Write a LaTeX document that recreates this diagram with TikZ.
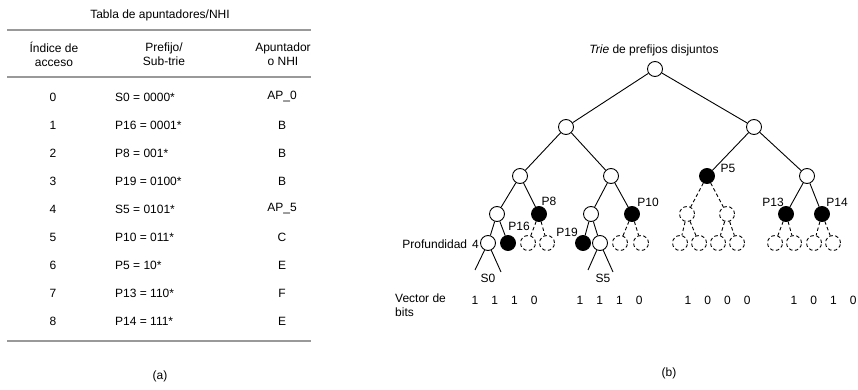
\documentclass[tikz,border=0pt]{standalone}
\usepackage{fontspec}
\setmainfont{Liberation Sans}
\usetikzlibrary{positioning}
\tikzstyle{etq}=[inner sep=1pt,font=\fontsize{12}{14}\selectfont]
\tikzstyle{vacio}=[circle,draw,fill=white,line width=0.9pt,minimum size=15pt,inner sep=0pt]
\tikzstyle{prefijo}=[vacio,fill=black]
\tikzstyle{virtual}=[vacio,dash pattern=on 3.5pt off 2.5pt]
\tikzstyle{rama}=[draw,line width=0.9pt]
\tikzstyle{ramavirtual}=[rama,dash pattern=on 3.5pt off 2.5pt]
\tikzstyle{regla}=[line width=2.6pt,draw=black!40]

\begin{document}
\begin{tikzpicture}[x=1pt,y=-1pt]
    \useasboundingbox (0,0) rectangle (858,390);

    % (a) tabla
    \node[etq] (titulo) at (160,15) {Tabla de apuntadores/NHI};
    \draw[regla] (7,30) -- (311,30);
    \node[etq,align=center] (hidx) at (54,54) {Índice de\\acceso};
    \node[etq,align=center] (hpfx) at (164,54) {Prefijo/\\Sub-trie};
    \node[etq,align=center] (hap)  at (283,54) {Apuntador\\o NHI};
    \draw[regla] (7,77) -- (311,77);
    \foreach \i/\p/\a in {0/S0 = 0000*/AP\_0, 1/P16 = 0001*/B, 2/P8 = 001*/B,
        3/P19 = 0100*/B, 4/S5 = 0101*/AP\_5, 5/P10 = 011*/C, 6/P5 = 10*/E,
        7/P13 = 110*/F, 8/P14 = 111*/E} {
        \node[etq] (idx\i) at (53,97+28*\i) {\i};
        \node[etq,anchor=west] (pfx\i) at (114,97+28*\i) {\p};
        \node[etq] (ap\i) at (282,97+28*\i) {\a};
    }
    \draw[regla] (7,341) -- (311,341);
    \node[etq] (capa) at (160,376) {(a)};

    % (b) trie
    \node[etq] (titulob) at (654,50) {\textit{Trie} de prefijos disjuntos};
    \node[vacio] (n) at (655,69) {};
    \node[vacio] (n0) at (566,127) {};
    \node[vacio] (n1) at (754,127) {};
    \node[vacio] (n00) at (520,176) {};
    \node[vacio] (n01) at (611,176) {};
    \node[prefijo] (n10) at (707,176) {};
    \node[vacio] (n11) at (807,176) {};
    \node[vacio] (n000) at (497,214) {};
    \node[prefijo] (n001) at (539,214) {};
    \node[vacio] (n010) at (591,214) {};
    \node[prefijo] (n011) at (632,214) {};
    \node[virtual] (n100) at (687,214) {};
    \node[virtual] (n101) at (727,214) {};
    \node[prefijo] (n110) at (786,214) {};
    \node[prefijo] (n111) at (822,214) {};
    \node[vacio] (n0000) at (488,243) {};
    \node[prefijo] (n0001) at (508,243) {};
    \node[virtual] (n0010) at (528,243) {};
    \node[virtual] (n0011) at (547,243) {};
    \node[prefijo] (n0100) at (583,243) {};
    \node[vacio] (n0101) at (600,243) {};
    \node[virtual] (n0110) at (620,243) {};
    \node[virtual] (n0111) at (641,243) {};
    \node[virtual] (n1000) at (680,243) {};
    \node[virtual] (n1001) at (699,243) {};
    \node[virtual] (n1010) at (718,243) {};
    \node[virtual] (n1011) at (737,243) {};
    \node[virtual] (n1100) at (775,243) {};
    \node[virtual] (n1101) at (794,243) {};
    \node[virtual] (n1110) at (814,243) {};
    \node[virtual] (n1111) at (833,243) {};

    \path[rama] (n) edge (n0) edge (n1)
        (n0) edge (n00) edge (n01)
        (n1) edge (n10) edge (n11)
        (n00) edge (n000) edge (n001)
        (n01) edge (n010) edge (n011)
        (n11) edge (n110) edge (n111)
        (n000) edge (n0000) edge (n0001)
        (n010) edge (n0100) edge (n0101);
    \path[ramavirtual] (n001) edge (n0010) edge (n0011)
        (n011) edge (n0110) edge (n0111)
        (n10) edge (n100) edge (n101)
        (n100) edge (n1000) edge (n1001)
        (n101) edge (n1010) edge (n1011)
        (n110) edge (n1100) edge (n1101)
        (n111) edge (n1110) edge (n1111);

    % sub-tries S0 y S5
    \coordinate (s0a) at (475,270);
    \coordinate (s0b) at (501,272);
    \coordinate (s5a) at (588,270);
    \coordinate (s5b) at (613,272);
    \path[rama] (n0000) edge (s0a) edge (s0b)
        (n0101) edge (s5a) edge (s5b);
    \node[etq] (eS0) at (488,278) {S0};
    \node[etq] (eS5) at (603,278) {S5};

    \node[etq] (eP5) at (728,168) {P5};
    \node[etq] (eP8) at (549,201) {P8};
    \node[etq] (eP10) at (648,202) {P10};
    \node[etq] (eP13) at (773,202) {P13};
    \node[etq] (eP14) at (837,202) {P14};
    \node[etq] (eP16) at (519,226) {P16};
    \node[etq] (eP19) at (567,232) {P19};
    \node[etq,anchor=east] (prof) at (480,244) {Profundidad\hspace{5pt}4};

    \node[etq,anchor=north west,align=left] (vec) at (394,293) {Vector de\\bits};
    \foreach \g/\x/\bits in {1/475/{1,1,1,0},2/580/{1,1,1,0},3/688/{1,0,0,0},4/794/{1,0,1,0}} {
        \foreach \b [count=\k] in \bits {
            \node[etq] (b\g\k) at (\x+19.7*\k-19.7,300) {\b};
        }
    }
    \node[etq] (capb) at (669,373) {(b)};
\end{tikzpicture}
\end{document}
